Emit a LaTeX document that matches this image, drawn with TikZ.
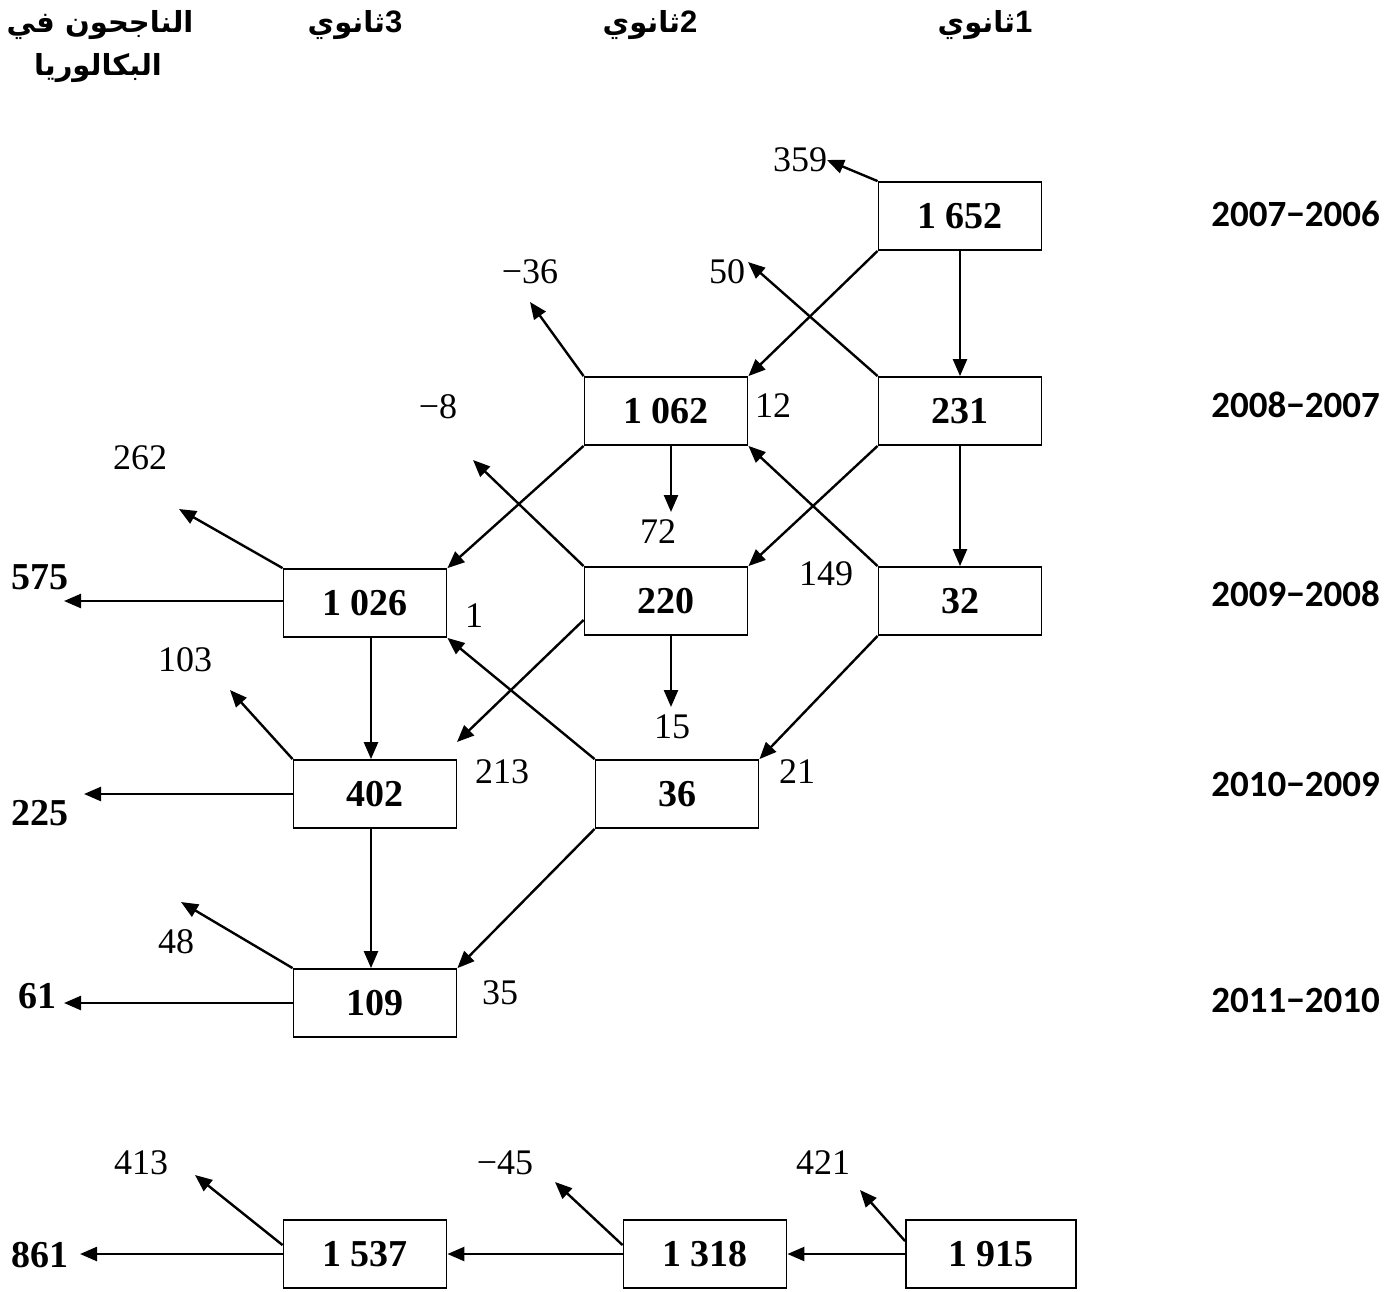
\documentclass[tikz,border=0pt]{standalone}
\usepackage{fontspec}
\usetikzlibrary{arrows.meta}
\setmainfont{Liberation Serif}
\newfontfamily\arabicfont[Script=Arabic]{DejaVu Sans}
\newfontfamily\yearfont{Carlito}
\newfontfamily\headfont{Liberation Sans}
\TeXXeTstate=1
\begin{document}
\begin{tikzpicture}[x=1pt,y=-1pt,
  box/.style={draw,line width=1.8pt,minimum width=163pt,minimum height=68pt,inner sep=0pt,
    font=\fontsize{38}{40}\selectfont\bfseries},
  flow/.style={line width=2.4pt,-{Triangle[length=17pt,width=14pt]}},
  val/.style={inner sep=0pt,font=\fontsize{36}{40}\selectfont},
  outval/.style={inner sep=0pt,font=\fontsize{38}{40}\selectfont\bfseries},
  year/.style={inner sep=0pt,anchor=east,font=\fontsize{37}{40}\yearfont\bfseries},
  head/.style={inner sep=0pt,font=\fontsize{29}{32}\arabicfont\bfseries}]
\useasboundingbox (0,0) rectangle (1400,1291);

% column headings
\node[head] (h1) at (985,25) {ثانوي{\headfont\bfseries\fontsize{31}{32}\selectfont 1}};
\node[head] (h2) at (650,25) {ثانوي{\headfont\bfseries\fontsize{31}{32}\selectfont 2}};
\node[head] (h3) at (355,25) {ثانوي{\headfont\bfseries\fontsize{31}{32}\selectfont 3}};
\node[head] (h4a) at (100,25) {\beginR الناجحون في\endR};
\node[head] (h4b) at (98,68) {البكالوريا};

% school years
\node[year] (y1) at (1380,214) {2007−2006};
\node[year] (y2) at (1380,405) {2008−2007};
\node[year] (y3) at (1380,594) {2009−2008};
\node[year] (y4) at (1380,784) {2010−2009};
\node[year] (y5) at (1380,1000) {2011−2010};

% cohort boxes
\node[box] (n1652) at (960,216) {1 652};
\node[box] (n231)  at (960,411) {231};
\node[box] (n32)   at (960,601) {32};
\node[box] (n1062) at (666,411) {1 062};
\node[box] (n220)  at (666,601) {220};
\node[box] (n36)   at (677,794) {36};
\node[box] (n1026) at (365,603) {1 026};
\node[box] (n402)  at (375,794) {402};
\node[box] (n109)  at (375,1003) {109};
\node[box] (n1537) at (365,1254) {1 537};
\node[box] (n1318) at (705,1254) {1 318};
\node[box,minimum width=170pt] (n1915) at (991,1254) {1 915};

% free ends of the outgoing arrows
\coordinate (e359) at (827,160);
\coordinate (e50)  at (748,262);
\coordinate (e36)  at (530,302);
\coordinate (e72)  at (671,512);
\coordinate (e8)   at (473,460);
\coordinate (e262) at (179,509);
\coordinate (e575) at (64,601);
\coordinate (e103) at (230,690);
\coordinate (e15)  at (671,707);
\coordinate (e213) at (457,742);
\coordinate (e225) at (84,794);
\coordinate (e48)  at (181,902);
\coordinate (e61)  at (64,1003);
\coordinate (e413) at (195,1175);
\coordinate (e861) at (80,1254);
\coordinate (e45)  at (555,1182);
\coordinate (e421) at (860,1190);

% flows between boxes
\draw[flow] (n1652.south west) -- (n1062.north east);
\draw[flow] (n1652.south) -- (n231.north);
\draw[flow] (n231.south west) -- (n220.north east);
\draw[flow] (n231.south) -- (n32.north);
\draw[flow] (n32.north west) -- (n1062.south east);
\draw[flow] (n1062.south west) -- (n1026.north east);
\draw[flow] (n32.south west) -- (n36.north east);
\draw[flow] (n36.north west) -- (n1026.south east);
\draw[flow] ([xshift=6pt]n1026.south) -- ([xshift=-4pt]n402.north);
\draw[flow] ([xshift=-4pt]n402.south) -- ([xshift=-4pt]n109.north);
\draw[flow] (n36.south west) -- (n109.north east);
\draw[flow] (n1318.west) -- (n1537.east);
\draw[flow] (n1915.west) -- (n1318.east);

% outgoing flows
\draw[flow] (n1652.north west) -- (e359);
\draw[flow] (n231.north west) -- (e50);
\draw[flow] (n1062.north west) -- (e36);
\draw[flow] ([xshift=5pt]n1062.south) -- (e72);
\draw[flow] (n220.north west) -- (e8);
\draw[flow] ([xshift=5pt]n220.south) -- (e15);
\draw[flow] ([yshift=-19pt]n220.west) -- (e213);
\draw[flow] (n1026.north west) -- (e262);
\draw[flow] ([yshift=2pt]n1026.west) -- (e575);
\draw[flow] (n402.north west) -- (e103);
\draw[flow] (n402.west) -- (e225);
\draw[flow] (n109.north west) -- (e48);
\draw[flow] (n109.west) -- (e61);
\draw[flow] ([yshift=-26pt]n1537.north west) -- (e413);
\draw[flow] (n1537.west) -- (e861);
\draw[flow] ([yshift=-26pt]n1318.north west) -- (e45);
\draw[flow] ([yshift=-22pt]n1915.north west) -- (e421);

% numeric labels
\node[val] (l359) at (800,160) {359};
\node[val] (l50)  at (727,272) {50};
\node[val] (l36)  at (530,272) {−36};
\node[val] (l12)  at (773,406) {12};
\node[val] (l72)  at (658,532) {72};
\node[val] (l149) at (826,574) {149};
\node[val] (l8)   at (438,407) {−8};
\node[val] (l262) at (140,458) {262};
\node[val] (l1)   at (474,616) {1};
\node[val] (l103) at (185,660) {103};
\node[val] (l213) at (502,772) {213};
\node[val] (l15)  at (672,727) {15};
\node[val] (l21)  at (797,772) {21};
\node[val] (l48)  at (176,942) {48};
\node[val] (l35)  at (500,993) {35};
\node[val] (l413) at (141,1163) {413};
\node[val] (l45)  at (505,1163) {−45};
\node[val] (l421) at (823,1163) {421};
\node[outval] (o575) at (40,577) {575};
\node[outval] (o225) at (40,813) {225};
\node[outval] (o61)  at (37,996) {61};
\node[outval] (o861) at (40,1255) {861};
\end{tikzpicture}
\end{document}
